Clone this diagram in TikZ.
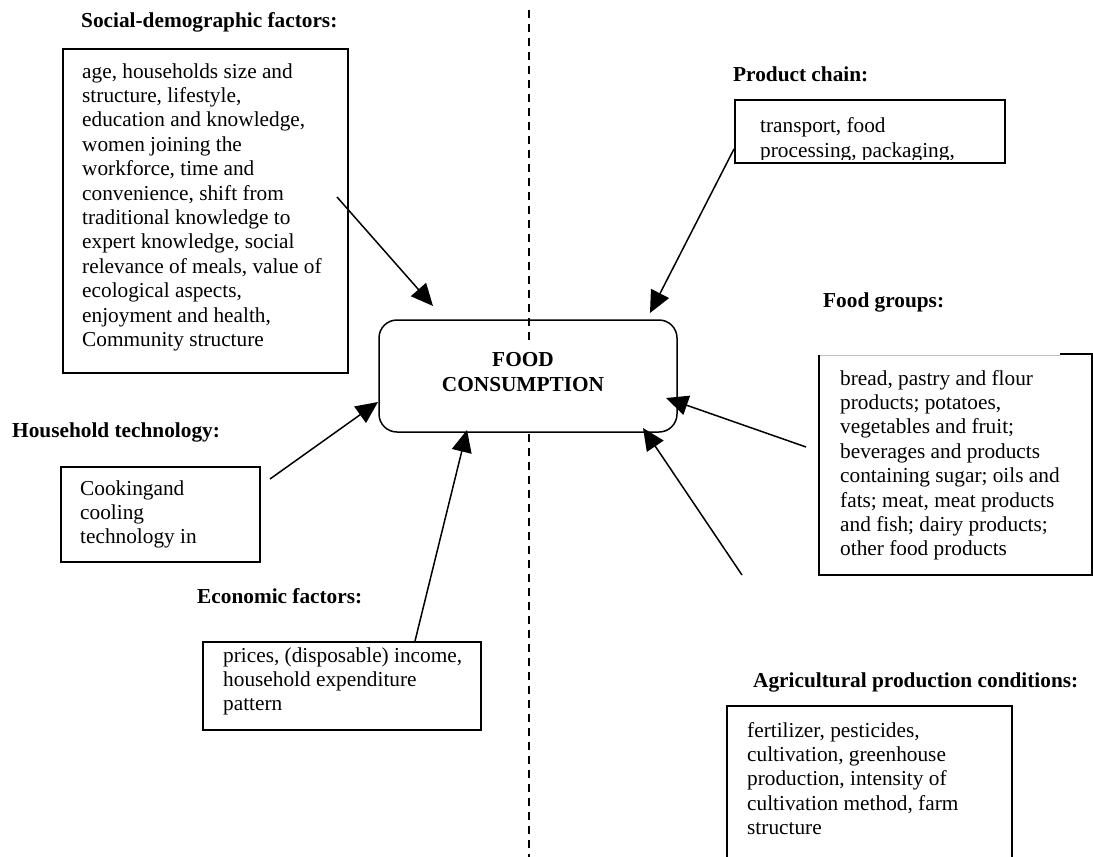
\documentclass[tikz,border=0pt]{standalone}
\usepackage{fontspec}
\setmainfont{Liberation Serif}
\usetikzlibrary{arrows.meta}
\begin{document}
\begin{tikzpicture}[x=1pt,y=-1pt,
  % multi-line text: anchored at the baseline of its last line
  txt/.style={anchor=base west, inner sep=0pt, align=left, font=\fontsize{21.3}{24.4}\selectfont},
  ttl/.style={anchor=base west, inner sep=0pt, font=\fontsize{21.3}{24.4}\selectfont\bfseries},
  frame/.style={draw=black, line width=1.5pt, anchor=north west, inner sep=0pt},
  edge/.style={draw=black, line width=1.5pt},
  arr/.style={line width=1.5pt, -{Triangle[length=22pt,width=20pt]}},
  divider/.style={line width=1.5pt, dash pattern=on 8pt off 6pt}
]
\useasboundingbox (0,0) rectangle (1093,857);

% dividing line
\coordinate (d1) at (529,10);
\coordinate (d2) at (529,342);
\coordinate (d3) at (529,434);
\coordinate (d4) at (529,857);
\draw[divider] (d1) -- (d2);
\draw[divider] (d3) -- (d4);

% central node
\node[draw=black, line width=1.5pt, rounded corners=18pt, minimum width=298pt,
      minimum height=112pt, inner sep=0pt] (food) at (528,376) {};
\node[inner sep=0pt, align=center, font=\fontsize{21.3}{24.4}\selectfont\bfseries]
      (foodtxt) at (523,372) {FOOD\\CONSUMPTION};

% social-demographic factors
\node[ttl] (soctitle) at (81,27) {Social-demographic factors:};
\node[frame, minimum width=285pt, minimum height=324pt] (socbox) at (62,48) {};
\node[txt] (soctext) at (82,346.4) {age, households size and\\
structure, lifestyle,\\
education and knowledge,\\
women joining the\\
workforce, time and\\
convenience, shift from\\
traditional knowledge to\\
expert knowledge, social\\
relevance of meals, value of\\
ecological aspects,\\
enjoyment and health,\\
Community structure};

% product chain (second line cut by the frame)
\node[ttl] (prodtitle) at (733,81) {Product chain:};
\begin{scope}
  \clip (734,99) rectangle (1004,159.5);
  \node[txt] (prodtext) at (760,157) {transport, food\\processing, packaging,};
\end{scope}
\node[frame, minimum width=270pt, minimum height=63pt] (prodbox) at (734,99) {};

% food groups
\node[ttl] (grptitle) at (823,307) {Food groups:};
\coordinate (g1) at (819,355);
\coordinate (g2) at (1060,355);
\coordinate (g3) at (1092,355);
\coordinate (g4) at (1092,575);
\coordinate (g5) at (819,575);
\draw[draw=black!25, line width=0.8pt] (g1) -- (g2);
\draw[edge] (1060,354) -- (1093,354);
\draw[edge] (g1) -- (g5) -- (g4) -- (g3);
\node[txt] (grptext) at (840,555.8) {bread, pastry and flour\\
products; potatoes,\\
vegetables and fruit;\\
beverages and products\\
containing sugar; oils and\\
fats; meat, meat products\\
and fish; dairy products;\\
other food products};

% household technology
\node[ttl] (hhtitle) at (12,437) {Household technology:};
\node[frame, minimum width=199pt, minimum height=95pt] (hhbox) at (60,466) {};
\node[txt] (hhtext) at (80,543.8) {Cookingand\\cooling\\technology in};

% economic factors
\node[ttl] (ecotitle) at (197,603) {Economic factors:};
\node[frame, minimum width=278pt, minimum height=88pt] (ecobox) at (202,641) {};
\node[txt] (ecotext) at (223,710.8) {prices, (disposable) income,\\household expenditure\\pattern};

% agricultural production conditions
\node[ttl] (agrtitle) at (753,687) {Agricultural production conditions:};
\coordinate (a1) at (727,860);
\coordinate (a2) at (727,706);
\coordinate (a3) at (1012,706);
\coordinate (a4) at (1012,860);
\draw[edge] (a1) -- (a2) -- (a3) -- (a4);
\node[txt] (agrtext) at (747,834.6) {fertilizer, pesticides,\\
cultivation, greenhouse\\
production, intensity of\\
cultivation method, farm\\
structure};

% influence arrows
\coordinate (s0) at (337,197);  \coordinate (s1) at (433,306);
\coordinate (p0) at (734,149);  \coordinate (p1) at (650,313);
\coordinate (f0) at (806,447);  \coordinate (f1) at (666,398);
\coordinate (h0) at (270,479);  \coordinate (h1) at (378,402);
\coordinate (e0) at (415,641);  \coordinate (e1) at (467,430);
\coordinate (r0) at (742,575);  \coordinate (r1) at (643,428);
\draw[arr] (s0) -- (s1);
\draw[arr] (p0) -- (p1);
\draw[arr] (f0) -- (f1);
\draw[arr] (h0) -- (h1);
\draw[arr] (e0) -- (e1);
\draw[arr] (r0) -- (r1);
\end{tikzpicture}
\end{document}
